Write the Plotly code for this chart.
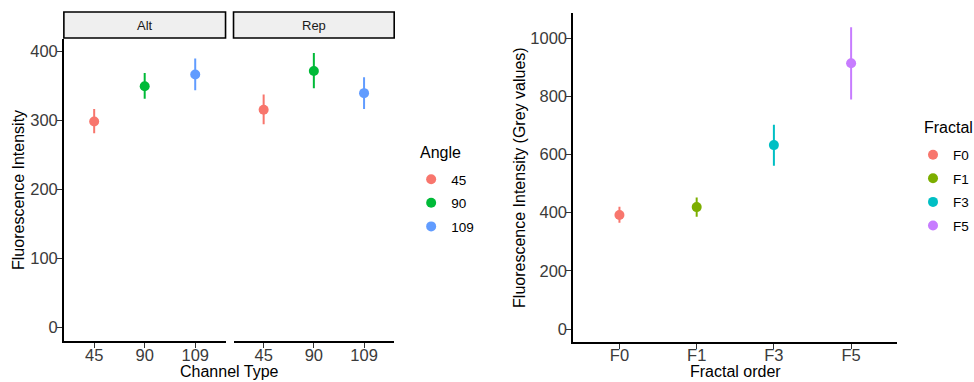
import plotly.graph_objects as go

W, H = 974, 382

# ---- data (left: faceted by channel type, coloured by angle) ----
channel_types = ["Alt", "Rep"]
angles = ["45", "90", "109"]
angle_colors = ["#F8766D", "#00BA38", "#619CFF"]
alt_mean = [298, 349, 366]
alt_upper = [316, 368, 389]
alt_lower = [281, 331, 343]
rep_mean = [315, 371, 339]
rep_upper = [337, 397, 362]
rep_lower = [294, 346, 316]
left_yticks = [0, 100, 200, 300, 400]

# ---- data (right: fractal order) ----
fractals = ["F0", "F1", "F3", "F5"]
fractal_colors = ["#F8766D", "#7CAE00", "#00BFC4", "#C77CFF"]
fr_mean = [392, 419, 632, 913]
fr_upper = [420, 452, 702, 1037]
fr_lower = [365, 386, 561, 789]
right_yticks = [0, 200, 400, 600, 800, 1000]

FONT = "Liberation Sans, Arial, sans-serif"
TICK_COL = "#3A3A3A"


def px_x(p):
    return p / W


def px_y(p):
    return 1 - p / H


fig = go.Figure()

panels = [
    ("x", "y", alt_mean, alt_upper, alt_lower, True),
    ("x2", "y2", rep_mean, rep_upper, rep_lower, False),
]
for xa, ya, mean, up, lo, show in panels:
    for i, a in enumerate(angles):
        fig.add_trace(go.Scatter(
            x=[a], y=[mean[i]], xaxis=xa, yaxis=ya, mode="markers",
            marker=dict(color=angle_colors[i], size=10),
            error_y=dict(type="data", symmetric=False,
                         array=[up[i] - mean[i]], arrayminus=[mean[i] - lo[i]],
                         color=angle_colors[i], thickness=2, width=0),
            name=a, legendgroup="a" + a, showlegend=show, legend="legend",
        ))

for i, f in enumerate(fractals):
    fig.add_trace(go.Scatter(
        x=[f], y=[fr_mean[i]], xaxis="x3", yaxis="y3", mode="markers",
        marker=dict(color=fractal_colors[i], size=10),
        error_y=dict(type="data", symmetric=False,
                     array=[fr_upper[i] - fr_mean[i]], arrayminus=[fr_mean[i] - fr_lower[i]],
                     color=fractal_colors[i], thickness=2, width=0),
        name=f, legendgroup="f" + f, showlegend=True, legend="legend2",
    ))

axis_common = dict(
    showline=True, linecolor="black", linewidth=1.6, showgrid=False, zeroline=False,
    ticks="outside", ticklen=5, tickwidth=1.2, tickcolor="#333333",
    tickfont=dict(family=FONT, size=16.5, color=TICK_COL), fixedrange=True,
)
x_common = dict(axis_common, ticklabelstandoff=-7)
y_common = dict(axis_common, ticklabelstandoff=-4)

left_dom_y = [px_y(341), px_y(39)]
right_dom_y = [px_y(341.7), px_y(12.7)]

fig.update_layout(
    width=W, height=H, margin=dict(l=0, r=0, t=0, b=0),
    paper_bgcolor="white", plot_bgcolor="white",
    font=dict(family=FONT, color="black"),
    xaxis=dict(x_common, type="category", categoryorder="array", categoryarray=angles,
               range=[-0.6, 2.6], domain=[px_x(64), px_x(226)], anchor="y"),
    xaxis2=dict(x_common, type="category", categoryorder="array", categoryarray=angles,
                range=[-0.6, 2.6], domain=[px_x(234), px_x(395)], anchor="y2"),
    yaxis=dict(y_common, range=[-20, 417.4], tickvals=left_yticks,
               domain=left_dom_y, anchor="x"),
    yaxis2=dict(range=[-20, 417.4], domain=left_dom_y, anchor="x2", showline=False,
                showticklabels=False, showgrid=False, zeroline=False, ticks="", fixedrange=True),
    xaxis3=dict(x_common, type="category", categoryorder="array", categoryarray=fractals,
                range=[-0.6, 3.6], domain=[px_x(574.3), px_x(899.3)], anchor="y3"),
    yaxis3=dict(y_common, range=[-43.6, 1087], tickvals=right_yticks,
                domain=right_dom_y, anchor="x3"),
    legend=dict(x=px_x(412), y=px_y(164), xanchor="left", yanchor="top",
                font=dict(family=FONT, size=13.5, color="black"),
                traceorder="grouped", tracegroupgap=3, bgcolor="rgba(0,0,0,0)"),
    legend2=dict(x=px_x(915), y=px_y(139.5), xanchor="left", yanchor="top",
                 font=dict(family=FONT, size=13.5, color="black"),
                 traceorder="grouped", tracegroupgap=3, bgcolor="rgba(0,0,0,0)"),
)

# strips
shapes = []
annotations = []
for (x0, x1), lab in zip([(64, 226), (234, 395)], channel_types):
    shapes.append(dict(type="rect", xref="paper", yref="paper",
                       x0=px_x(x0), x1=px_x(x1), y0=px_y(38), y1=px_y(12),
                       line=dict(color="black", width=1.6), fillcolor="#EFEFEF", layer="above"))
    annotations.append(dict(text=lab, xref="paper", yref="paper", x=px_x((x0 + x1) / 2),
                            y=px_y(25), showarrow=False, xanchor="center", yanchor="middle",
                            font=dict(family=FONT, size=13, color="#1A1A1A")))

# axis titles
annotations += [
    dict(text="Fluorescence Intensity", xref="paper", yref="paper", x=px_x(18), y=px_y(190),
         textangle=-90, showarrow=False, xanchor="center", yanchor="middle",
         font=dict(family=FONT, size=16, color="black")),
    dict(text="Channel Type", xref="paper", yref="paper", x=px_x(230), y=px_y(371.5),
         showarrow=False, xanchor="center", yanchor="middle",
         font=dict(family=FONT, size=16, color="black")),
    dict(text="Fluorescence Intensity (Grey values)", xref="paper", yref="paper",
         x=px_x(520), y=px_y(177), textangle=-90, showarrow=False,
         xanchor="center", yanchor="middle", font=dict(family=FONT, size=16, color="black")),
    dict(text="Fractal order", xref="paper", yref="paper", x=px_x(737), y=px_y(371.5),
         showarrow=False, xanchor="center", yanchor="middle",
         font=dict(family=FONT, size=16, color="black")),
    dict(text="Angle", xref="paper", yref="paper", x=px_x(419), y=px_y(152),
         showarrow=False, xanchor="left", yanchor="middle",
         font=dict(family=FONT, size=16, color="black")),
    dict(text="Fractal", xref="paper", yref="paper", x=px_x(924), y=px_y(127),
         showarrow=False, xanchor="left", yanchor="middle",
         font=dict(family=FONT, size=16, color="black")),
]
fig.update_layout(shapes=shapes, annotations=annotations)

fig.write_html("out.html")
